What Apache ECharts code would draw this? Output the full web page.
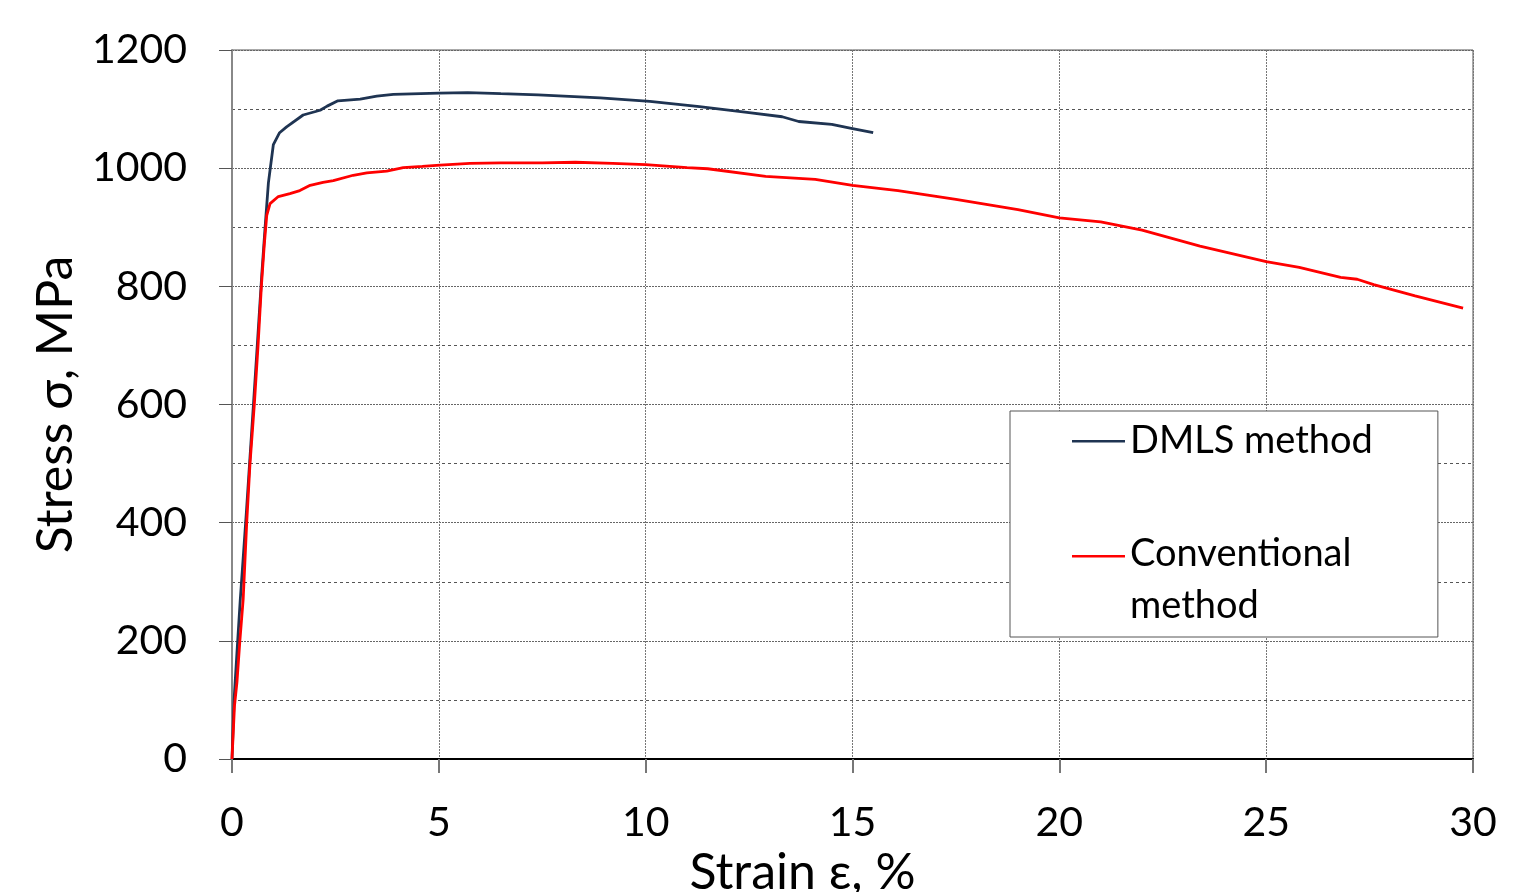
<!DOCTYPE html>
<html>
<head>
<meta charset="utf-8">
<script src="https://cdn.jsdelivr.net/npm/echarts@6/dist/echarts.min.js"></script>
<style>
  html, body { margin: 0; padding: 0; background: #fff; }
  #chart { width: 1524px; height: 892px; }
</style>
</head>
<body>
<div id="chart"></div>
<script>
// strain (%) and stress (MPa)
var dmlsStrain = [0, 0.05, 0.12, 0.2, 0.35, 0.5, 0.62, 0.72, 0.8, 0.88, 1.0, 1.15, 1.32, 1.72, 2.13, 2.3, 2.56, 3.1, 3.5, 3.9, 5.0, 5.7, 6.5, 7.4, 8.9, 10.1, 11.3, 12.5, 13.3, 13.7, 14.5, 15.0, 15.5];
var dmlsStress = [0, 100, 180, 270, 420, 580, 710, 820, 900, 975, 1040, 1060, 1070, 1090, 1098, 1105, 1114, 1117, 1122, 1125, 1127, 1128, 1126, 1124, 1119, 1113, 1104, 1094, 1087, 1079, 1074, 1067, 1060];

var convStrain = [0, 0.06, 0.12, 0.19, 0.27, 0.355, 0.435, 0.54, 0.63, 0.71, 0.78, 0.84, 0.92, 1.12, 1.4, 1.64, 1.89, 2.2, 2.45, 2.93, 3.26, 3.74, 4.14, 4.6, 5.03, 5.75, 6.5, 7.5, 8.3, 9.2, 10, 11, 11.5, 12.9, 14.1, 15, 16.1, 17.5, 19, 20, 21, 22, 23.4, 25, 25.8, 26.8, 27.2, 27.6, 28.6, 29.76];
var convStress = [0, 90, 130, 200, 270, 399, 500, 600, 700, 800, 870, 920, 940, 952, 957, 962, 971, 976, 979, 988, 992, 995, 1001, 1003, 1005, 1008, 1009, 1009, 1010, 1008, 1006, 1001, 999, 986, 981, 971, 962, 947, 930, 916, 909, 895, 868, 842, 832, 815, 812, 803, 784, 763];

var seriesNames = ['DMLS method', 'Conventional\nmethod'];
var seriesColors = ['#1f3452', '#ff0000'];

function pairs(xs, ys) {
  return xs.map(function (x, i) { return [x, ys[i]]; });
}

var font = 'Lato';
var myChart = echarts.init(document.getElementById('chart'));

var option = {
  animation: false,
  grid: {
    left: 232, right: 51, top: 50, bottom: 133,
    outerBoundsMode: 'none',
    containLabel: false,
    show: true, borderColor: '#555', borderWidth: 1
  },
  legend: {
    orient: 'vertical',
    left: 1010, top: 411,
    padding: [4, 65, 5, 62],
    itemGap: 61,
    itemWidth: 53,
    itemHeight: 50,
    backgroundColor: '#fff',
    borderColor: '#555',
    borderWidth: 1,
    borderRadius: 0,
    textStyle: { fontFamily: font, fontSize: 38, lineHeight: 52, color: '#000' },
    data: [
      { name: seriesNames[0], icon: 'path://M0,24H53V26.5H0Z M0,0H0.01V0.01H0Z M0,50H0.01V50.01H0Z',
        itemStyle: { color: seriesColors[0], borderWidth: 0 } },
      { name: seriesNames[1], icon: 'path://M0,0H53V2.5H0Z M0,50H0.01V50.01H0Z',
        itemStyle: { color: seriesColors[1], borderWidth: 0 } }
    ]
  },
  xAxis: {
    type: 'value',
    min: 0, max: 30, interval: 5,
    name: 'Strain ε, %',
    nameLocation: 'middle',
    nameGap: 84,
    nameTextStyle: { fontFamily: font, fontSize: 50, color: '#000', padding: [0, 100, 0, 0] },
    axisLine: { show: true, onZero: false, lineStyle: { color: '#000', width: 2 } },
    axisTick: { show: true, length: 14, lineStyle: { color: '#777', width: 2 } },
    axisLabel: { fontFamily: font, fontSize: 41, color: '#000', margin: 43 },
    splitLine: { show: true, lineStyle: { color: '#777', type: [2, 1], width: 1 } }
  },
  yAxis: {
    type: 'value',
    min: 0, max: 1200, interval: 200,
    name: 'Stress σ, MPa',
    nameLocation: 'middle',
    nameGap: 130,
    nameTextStyle: { fontFamily: font, fontSize: 50, color: '#000' },
    axisLine: { show: true, onZero: false, lineStyle: { color: '#888', width: 2 } },
    axisTick: { show: true, length: 13, lineStyle: { color: '#555', width: 1 } },
    axisLabel: {
      fontFamily: font, fontSize: 41, color: '#000', margin: 45,
      formatter: function (v) { return String(v); }
    },
    splitLine: { show: true, lineStyle: { color: '#666', type: [2, 1], width: 1 } },
    minorTick: { show: false, splitNumber: 2 },
    minorSplitLine: { show: true, lineStyle: { color: '#555', type: [3, 3], width: 1 } }
  },
  series: [
    {
      name: seriesNames[0],
      type: 'line',
      showSymbol: false,
      data: pairs(dmlsStrain, dmlsStress),
      itemStyle: { color: seriesColors[0] },
      lineStyle: { color: seriesColors[0], width: 2.8 },
      z: 3
    },
    {
      name: seriesNames[1],
      type: 'line',
      showSymbol: false,
      data: pairs(convStrain, convStress),
      itemStyle: { color: seriesColors[1] },
      lineStyle: { color: seriesColors[1], width: 2.8 },
      z: 4
    }
  ]
};

myChart.setOption(option);
</script>
</body>
</html>
